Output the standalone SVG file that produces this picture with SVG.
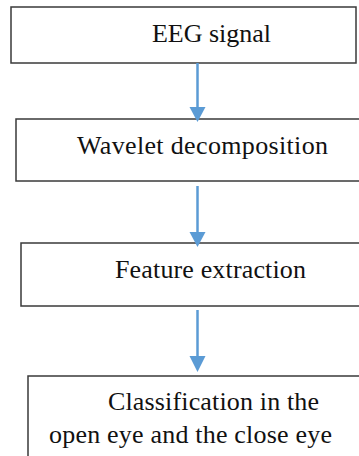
<svg xmlns="http://www.w3.org/2000/svg" width="359" height="456" viewBox="0 0 359 456">
  <style>
    .box { fill: #ffffff; stroke: #3a3a3a; stroke-width: 1.5; }
    .label { font-family: "Liberation Serif", "Times New Roman", serif; font-size: 26px; fill: #111111; }
    .shaft { stroke: #5b9bd5; stroke-width: 2.5; fill: none; }
    .head { fill: #5b9bd5; }
  </style>
  <rect width="359" height="456" fill="#ffffff"/>

  <g id="node-eeg-signal">
    <rect class="box" x="11" y="7" width="345" height="56"/>
    <text class="label" x="152" y="42" textLength="119" lengthAdjust="spacing">EEG signal</text>
  </g>

  <g id="node-wavelet">
    <rect class="box" x="16" y="119" width="350" height="62"/>
    <text class="label" x="77" y="154" textLength="251" lengthAdjust="spacing">Wavelet decomposition</text>
  </g>

  <g id="node-feature">
    <rect class="box" x="21" y="243" width="350" height="63"/>
    <text class="label" x="115" y="278" textLength="191" lengthAdjust="spacing">Feature extraction</text>
  </g>

  <g id="node-classification">
    <rect class="box" x="28" y="376" width="350" height="100"/>
    <text class="label" x="108" y="410" textLength="211" lengthAdjust="spacing">Classification in the</text>
    <text class="label" x="49" y="443" textLength="283" lengthAdjust="spacing">open eye and the close eye</text>
  </g>

  <g id="connectors">
    <line class="shaft" x1="197.5" y1="63" x2="197.5" y2="108"/>
    <polygon class="head" points="189.5,107 205.5,107 197.5,122"/>
    <line class="shaft" x1="197.5" y1="186" x2="197.5" y2="233"/>
    <polygon class="head" points="189.5,232 205.5,232 197.5,247"/>
    <line class="shaft" x1="197.5" y1="310" x2="197.5" y2="357"/>
    <polygon class="head" points="189.5,356 205.5,356 197.5,372"/>
  </g>
</svg>
